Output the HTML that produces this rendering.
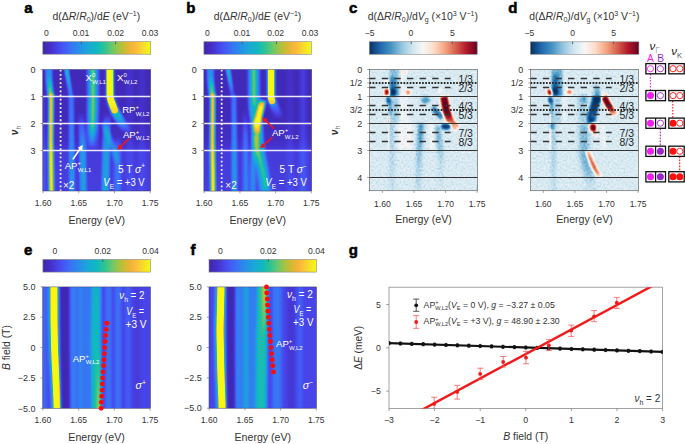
<!DOCTYPE html><html><head><meta charset="utf-8"><style>html,body{margin:0;padding:0;background:#fff;}body{width:685px;height:444px;overflow:hidden;font-family:"Liberation Sans",sans-serif;}svg{display:block;}</style></head><body><svg width="685" height="444" viewBox="0 0 685 444" font-family='"Liberation Sans", sans-serif' fill="#333"><defs><linearGradient id="gpar"><stop offset="0.000" stop-color="#3e26a8"/><stop offset="0.080" stop-color="#4632cd"/><stop offset="0.160" stop-color="#484bf0"/><stop offset="0.250" stop-color="#3c6ef5"/><stop offset="0.330" stop-color="#288ceb"/><stop offset="0.420" stop-color="#19a8d7"/><stop offset="0.500" stop-color="#0fb9be"/><stop offset="0.570" stop-color="#2dc396"/><stop offset="0.630" stop-color="#5fc873"/><stop offset="0.700" stop-color="#a0c446"/><stop offset="0.770" stop-color="#d4b930"/><stop offset="0.840" stop-color="#fcb43c"/><stop offset="0.900" stop-color="#facd34"/><stop offset="0.950" stop-color="#f4e622"/><stop offset="1.000" stop-color="#f8f814"/></linearGradient><linearGradient id="grdbu"><stop offset="0.000" stop-color="#053061"/><stop offset="0.100" stop-color="#2166ac"/><stop offset="0.200" stop-color="#4393c3"/><stop offset="0.300" stop-color="#92c5de"/><stop offset="0.400" stop-color="#d1e5f0"/><stop offset="0.500" stop-color="#f7f7f7"/><stop offset="0.600" stop-color="#fddbc7"/><stop offset="0.700" stop-color="#f4a582"/><stop offset="0.800" stop-color="#d6604d"/><stop offset="0.900" stop-color="#b2182b"/><stop offset="1.000" stop-color="#67001f"/></linearGradient><filter id="bl" x="-10%" y="-10%" width="120%" height="120%"><feGaussianBlur stdDeviation="0.7"/></filter><filter id="bl2" x="-10%" y="-10%" width="120%" height="120%"><feGaussianBlur stdDeviation="1.2"/></filter><filter id="g05" filterUnits="userSpaceOnUse" x="0" y="0" width="685" height="444" color-interpolation-filters="sRGB"><feGaussianBlur stdDeviation="0.5"/></filter><filter id="g08" filterUnits="userSpaceOnUse" x="0" y="0" width="685" height="444" color-interpolation-filters="sRGB"><feGaussianBlur stdDeviation="0.8"/></filter><filter id="g1" filterUnits="userSpaceOnUse" x="0" y="0" width="685" height="444" color-interpolation-filters="sRGB"><feGaussianBlur stdDeviation="1"/></filter><filter id="g15" filterUnits="userSpaceOnUse" x="0" y="0" width="685" height="444" color-interpolation-filters="sRGB"><feGaussianBlur stdDeviation="1.5"/></filter><filter id="g2" filterUnits="userSpaceOnUse" x="0" y="0" width="685" height="444" color-interpolation-filters="sRGB"><feGaussianBlur stdDeviation="2"/></filter><filter id="g3" filterUnits="userSpaceOnUse" x="0" y="0" width="685" height="444" color-interpolation-filters="sRGB"><feGaussianBlur stdDeviation="3"/></filter><filter id="g4" filterUnits="userSpaceOnUse" x="0" y="0" width="685" height="444" color-interpolation-filters="sRGB"><feGaussianBlur stdDeviation="4"/></filter><filter id="cmpar" filterUnits="userSpaceOnUse" x="0" y="0" width="685" height="444" color-interpolation-filters="sRGB"><feGaussianBlur stdDeviation="0.3"/><feComponentTransfer><feFuncR type="table" tableValues="0.24 0.25 0.26 0.27 0.27 0.28 0.28 0.27 0.26 0.25 0.24 0.21 0.19 0.16 0.15 0.13 0.11 0.09 0.08 0.07 0.06 0.1 0.14 0.19 0.27 0.36 0.45 0.54 0.63 0.7 0.77 0.84 0.9 0.95 0.99 0.98 0.98 0.97 0.96 0.96 0.97"/><feFuncG type="table" tableValues="0.15 0.16 0.18 0.19 0.22 0.25 0.28 0.32 0.36 0.39 0.43 0.47 0.51 0.54 0.57 0.6 0.64 0.66 0.68 0.71 0.73 0.74 0.75 0.76 0.78 0.78 0.78 0.77 0.77 0.75 0.74 0.73 0.72 0.71 0.72 0.76 0.8 0.85 0.9 0.94 0.97"/><feFuncB type="table" tableValues="0.66 0.71 0.75 0.8 0.84 0.88 0.93 0.95 0.95 0.96 0.96 0.95 0.94 0.93 0.91 0.88 0.86 0.84 0.81 0.78 0.75 0.69 0.63 0.58 0.52 0.46 0.4 0.34 0.27 0.24 0.21 0.19 0.21 0.22 0.23 0.22 0.2 0.17 0.13 0.11 0.08"/></feComponentTransfer></filter><filter id="cmrdbu" filterUnits="userSpaceOnUse" x="0" y="0" width="685" height="444" color-interpolation-filters="sRGB"><feGaussianBlur stdDeviation="0.3"/><feComponentTransfer><feFuncR type="table" tableValues="0.02 0.05 0.07 0.1 0.13 0.16 0.2 0.23 0.26 0.34 0.42 0.49 0.57 0.64 0.69 0.76 0.82 0.85 0.89 0.93 0.97 0.97 0.98 0.99 0.99 0.98 0.97 0.96 0.96 0.93 0.9 0.87 0.84 0.8 0.77 0.73 0.7 0.62 0.55 0.48 0.4"/><feFuncG type="table" tableValues="0.19 0.24 0.29 0.35 0.4 0.44 0.49 0.53 0.58 0.63 0.67 0.72 0.77 0.8 0.84 0.87 0.9 0.92 0.93 0.95 0.97 0.94 0.91 0.89 0.86 0.81 0.75 0.7 0.65 0.58 0.51 0.44 0.38 0.31 0.24 0.16 0.09 0.07 0.05 0.02 0"/><feFuncB type="table" tableValues="0.38 0.45 0.53 0.6 0.67 0.7 0.72 0.74 0.76 0.79 0.82 0.84 0.87 0.89 0.91 0.93 0.94 0.95 0.96 0.96 0.97 0.92 0.87 0.83 0.78 0.71 0.64 0.58 0.51 0.46 0.41 0.35 0.3 0.27 0.24 0.2 0.17 0.16 0.15 0.13 0.12"/></feComponentTransfer></filter><linearGradient id="o1" gradientUnits="userSpaceOnUse" x1="0" y1="63" x2="0" y2="97"><stop offset="0" stop-color="#fff" stop-opacity="0.32"/><stop offset="0.65" stop-color="#fff" stop-opacity="0.34"/><stop offset="1" stop-color="#fff" stop-opacity="0.36"/></linearGradient><linearGradient id="o2" gradientUnits="userSpaceOnUse" x1="0" y1="76" x2="0" y2="97"><stop offset="0" stop-color="#fff" stop-opacity="0"/><stop offset="0.57" stop-color="#fff" stop-opacity="0.45"/><stop offset="1" stop-color="#fff" stop-opacity="0.7"/></linearGradient><linearGradient id="o3" gradientUnits="userSpaceOnUse" x1="0" y1="94" x2="0" y2="197"><stop offset="0" stop-color="#fff" stop-opacity="0.75"/><stop offset="0.06" stop-color="#fff" stop-opacity="0.9"/><stop offset="0.45" stop-color="#fff" stop-opacity="0.92"/><stop offset="0.59" stop-color="#fff" stop-opacity="0.98"/><stop offset="1" stop-color="#fff" stop-opacity="1"/></linearGradient><linearGradient id="o4" gradientUnits="userSpaceOnUse" x1="0" y1="63" x2="0" y2="97"><stop offset="0" stop-color="#fff" stop-opacity="0.55"/><stop offset="0.26" stop-color="#fff" stop-opacity="0.55"/><stop offset="0.56" stop-color="#fff" stop-opacity="0.42"/><stop offset="1" stop-color="#fff" stop-opacity="0.26"/></linearGradient><linearGradient id="o5" gradientUnits="userSpaceOnUse" x1="0" y1="95" x2="0" y2="197"><stop offset="0" stop-color="#fff" stop-opacity="0.24"/><stop offset="0.34" stop-color="#fff" stop-opacity="0.28"/><stop offset="1" stop-color="#fff" stop-opacity="0.3"/></linearGradient><linearGradient id="o6" gradientUnits="userSpaceOnUse" x1="0" y1="112" x2="0" y2="197"><stop offset="0" stop-color="#fff" stop-opacity="0"/><stop offset="0.19" stop-color="#fff" stop-opacity="0.2"/><stop offset="0.39" stop-color="#fff" stop-opacity="0.3"/><stop offset="1" stop-color="#fff" stop-opacity="0.32"/></linearGradient><linearGradient id="o7" gradientUnits="userSpaceOnUse" x1="0" y1="63" x2="0" y2="150"><stop offset="0" stop-color="#fff" stop-opacity="0.34"/><stop offset="0.54" stop-color="#fff" stop-opacity="0.36"/><stop offset="0.75" stop-color="#fff" stop-opacity="0.3"/><stop offset="0.89" stop-color="#fff" stop-opacity="0.15"/><stop offset="1" stop-color="#fff" stop-opacity="0.02"/></linearGradient><linearGradient id="o8" gradientUnits="userSpaceOnUse" x1="0" y1="63" x2="0" y2="146"><stop offset="0" stop-color="#fff" stop-opacity="0.44"/><stop offset="0.4" stop-color="#fff" stop-opacity="0.46"/><stop offset="0.75" stop-color="#fff" stop-opacity="0.44"/><stop offset="0.88" stop-color="#fff" stop-opacity="0.25"/><stop offset="1" stop-color="#fff" stop-opacity="0.05"/></linearGradient><linearGradient id="o9" gradientUnits="userSpaceOnUse" x1="0" y1="112" x2="0" y2="197"><stop offset="0" stop-color="#fff" stop-opacity="0"/><stop offset="0.16" stop-color="#fff" stop-opacity="0.22"/><stop offset="0.33" stop-color="#fff" stop-opacity="0.3"/><stop offset="1" stop-color="#fff" stop-opacity="0.33"/></linearGradient><linearGradient id="o10" gradientUnits="userSpaceOnUse" x1="0" y1="63" x2="0" y2="110"><stop offset="0" stop-color="#fff" stop-opacity="1"/><stop offset="0.85" stop-color="#fff" stop-opacity="1"/><stop offset="0.94" stop-color="#fff" stop-opacity="0.95"/><stop offset="1" stop-color="#fff" stop-opacity="0.86"/></linearGradient><linearGradient id="o11" gradientUnits="userSpaceOnUse" x1="0" y1="63" x2="0" y2="133"><stop offset="0" stop-color="#fff" stop-opacity="0.3"/><stop offset="0.53" stop-color="#fff" stop-opacity="0.35"/><stop offset="0.67" stop-color="#fff" stop-opacity="0.5"/><stop offset="0.73" stop-color="#fff" stop-opacity="0.5"/><stop offset="0.79" stop-color="#fff" stop-opacity="0.42"/><stop offset="0.84" stop-color="#fff" stop-opacity="0.33"/><stop offset="0.93" stop-color="#fff" stop-opacity="0.18"/><stop offset="1" stop-color="#fff" stop-opacity="0"/></linearGradient><linearGradient id="o12" gradientUnits="userSpaceOnUse" x1="0" y1="122" x2="0" y2="166"><stop offset="0" stop-color="#fff" stop-opacity="0.1"/><stop offset="0.18" stop-color="#fff" stop-opacity="0.24"/><stop offset="0.52" stop-color="#fff" stop-opacity="0.28"/><stop offset="0.82" stop-color="#fff" stop-opacity="0.2"/><stop offset="1" stop-color="#fff" stop-opacity="0"/></linearGradient><linearGradient id="o13" gradientUnits="userSpaceOnUse" x1="0" y1="135" x2="0" y2="197"><stop offset="0" stop-color="#fff" stop-opacity="0"/><stop offset="0.24" stop-color="#fff" stop-opacity="0.18"/><stop offset="1" stop-color="#fff" stop-opacity="0.2"/></linearGradient><linearGradient id="bga" gradientUnits="userSpaceOnUse" x1="0" y1="69.4" x2="0" y2="191"><stop offset="0" stop-color="#080808"/><stop offset="0.42" stop-color="#090909"/><stop offset="0.58" stop-color="#0f0f0f"/><stop offset="0.68" stop-color="#1c1c1c"/><stop offset="1" stop-color="#1f1f1f"/></linearGradient><clipPath id="ca"><rect x="42.8" y="69.4" width="107.9" height="121.6"/></clipPath><linearGradient id="o14" gradientUnits="userSpaceOnUse" x1="0" y1="63" x2="0" y2="97"><stop offset="0" stop-color="#fff" stop-opacity="0.32"/><stop offset="0.65" stop-color="#fff" stop-opacity="0.34"/><stop offset="1" stop-color="#fff" stop-opacity="0.36"/></linearGradient><linearGradient id="o15" gradientUnits="userSpaceOnUse" x1="0" y1="76" x2="0" y2="97"><stop offset="0" stop-color="#fff" stop-opacity="0"/><stop offset="0.57" stop-color="#fff" stop-opacity="0.45"/><stop offset="1" stop-color="#fff" stop-opacity="0.7"/></linearGradient><linearGradient id="o16" gradientUnits="userSpaceOnUse" x1="0" y1="94" x2="0" y2="197"><stop offset="0" stop-color="#fff" stop-opacity="0.75"/><stop offset="0.06" stop-color="#fff" stop-opacity="0.9"/><stop offset="0.45" stop-color="#fff" stop-opacity="0.92"/><stop offset="0.59" stop-color="#fff" stop-opacity="0.98"/><stop offset="1" stop-color="#fff" stop-opacity="1"/></linearGradient><linearGradient id="o17" gradientUnits="userSpaceOnUse" x1="0" y1="63" x2="0" y2="97"><stop offset="0" stop-color="#fff" stop-opacity="0.55"/><stop offset="0.26" stop-color="#fff" stop-opacity="0.55"/><stop offset="0.56" stop-color="#fff" stop-opacity="0.4"/><stop offset="0.85" stop-color="#fff" stop-opacity="0.2"/><stop offset="1" stop-color="#fff" stop-opacity="0.1"/></linearGradient><linearGradient id="o18" gradientUnits="userSpaceOnUse" x1="0" y1="95" x2="0" y2="197"><stop offset="0" stop-color="#fff" stop-opacity="0.24"/><stop offset="0.34" stop-color="#fff" stop-opacity="0.28"/><stop offset="1" stop-color="#fff" stop-opacity="0.3"/></linearGradient><linearGradient id="o19" gradientUnits="userSpaceOnUse" x1="0" y1="108" x2="0" y2="197"><stop offset="0" stop-color="#fff" stop-opacity="0"/><stop offset="0.3" stop-color="#fff" stop-opacity="0.22"/><stop offset="1" stop-color="#fff" stop-opacity="0.26"/></linearGradient><linearGradient id="o20" gradientUnits="userSpaceOnUse" x1="0" y1="63" x2="0" y2="197"><stop offset="0" stop-color="#fff" stop-opacity="0.36"/><stop offset="0.25" stop-color="#fff" stop-opacity="0.38"/><stop offset="0.35" stop-color="#fff" stop-opacity="0.42"/><stop offset="0.46" stop-color="#fff" stop-opacity="0.48"/><stop offset="0.57" stop-color="#fff" stop-opacity="0.44"/><stop offset="0.72" stop-color="#fff" stop-opacity="0.36"/><stop offset="1" stop-color="#fff" stop-opacity="0.3"/></linearGradient><linearGradient id="o21" gradientUnits="userSpaceOnUse" x1="0" y1="135" x2="0" y2="197"><stop offset="0" stop-color="#fff" stop-opacity="0.3"/><stop offset="0.24" stop-color="#fff" stop-opacity="0.3"/><stop offset="0.56" stop-color="#fff" stop-opacity="0.28"/><stop offset="1" stop-color="#fff" stop-opacity="0.26"/></linearGradient><linearGradient id="o22" gradientUnits="userSpaceOnUse" x1="0" y1="63" x2="0" y2="106"><stop offset="0" stop-color="#fff" stop-opacity="0.44"/><stop offset="0.77" stop-color="#fff" stop-opacity="0.42"/><stop offset="1" stop-color="#fff" stop-opacity="0.3"/></linearGradient><linearGradient id="o23" gradientUnits="userSpaceOnUse" x1="0" y1="128" x2="0" y2="188"><stop offset="0" stop-color="#fff" stop-opacity="0.45"/><stop offset="0.2" stop-color="#fff" stop-opacity="0.5"/><stop offset="0.37" stop-color="#fff" stop-opacity="0.46"/><stop offset="0.62" stop-color="#fff" stop-opacity="0.36"/><stop offset="1" stop-color="#fff" stop-opacity="0.28"/></linearGradient><linearGradient id="o24" gradientUnits="userSpaceOnUse" x1="0" y1="100" x2="0" y2="133"><stop offset="0" stop-color="#fff" stop-opacity="0.3"/><stop offset="0.09" stop-color="#fff" stop-opacity="0.8"/><stop offset="0.21" stop-color="#fff" stop-opacity="1"/><stop offset="0.73" stop-color="#fff" stop-opacity="1"/><stop offset="0.82" stop-color="#fff" stop-opacity="0.9"/><stop offset="0.91" stop-color="#fff" stop-opacity="0.65"/><stop offset="1" stop-color="#fff" stop-opacity="0.35"/></linearGradient><linearGradient id="o25" gradientUnits="userSpaceOnUse" x1="0" y1="63" x2="0" y2="101"><stop offset="0" stop-color="#fff" stop-opacity="1"/><stop offset="0.95" stop-color="#fff" stop-opacity="1"/><stop offset="1" stop-color="#fff" stop-opacity="0.85"/></linearGradient><linearGradient id="o26" gradientUnits="userSpaceOnUse" x1="0" y1="63" x2="0" y2="120"><stop offset="0" stop-color="#fff" stop-opacity="0.4"/><stop offset="0.65" stop-color="#fff" stop-opacity="0.4"/><stop offset="0.75" stop-color="#fff" stop-opacity="0.25"/><stop offset="0.86" stop-color="#fff" stop-opacity="0.14"/><stop offset="1" stop-color="#fff" stop-opacity="0"/></linearGradient><linearGradient id="bgb" gradientUnits="userSpaceOnUse" x1="0" y1="69.4" x2="0" y2="191.1"><stop offset="0" stop-color="#080808"/><stop offset="0.42" stop-color="#090909"/><stop offset="0.58" stop-color="#0f0f0f"/><stop offset="0.68" stop-color="#1c1c1c"/><stop offset="1" stop-color="#1f1f1f"/></linearGradient><clipPath id="cb"><rect x="203.9" y="69.4" width="107.8" height="121.7"/></clipPath><filter id="nz" filterUnits="userSpaceOnUse" x="360" y="60" width="290" height="140" color-interpolation-filters="sRGB"><feTurbulence type="fractalNoise" baseFrequency="0.5" numOctaves="2" seed="7"/><feColorMatrix type="matrix" values="1 0 0 0 0  1 0 0 0 0  1 0 0 0 0  0 0 0 0 0.2"/></filter><linearGradient id="o27" gradientUnits="userSpaceOnUse" x1="0" y1="63" x2="0" y2="96"><stop offset="0" stop-color="#000" stop-opacity="0.28"/><stop offset="0.52" stop-color="#000" stop-opacity="0.33"/><stop offset="0.82" stop-color="#000" stop-opacity="0.43"/><stop offset="1" stop-color="#000" stop-opacity="0.46"/></linearGradient><linearGradient id="o28" gradientUnits="userSpaceOnUse" x1="0" y1="76" x2="0" y2="94"><stop offset="0" stop-color="#000" stop-opacity="0.26"/><stop offset="0.44" stop-color="#000" stop-opacity="0.51"/><stop offset="1" stop-color="#000" stop-opacity="0.75"/></linearGradient><linearGradient id="o29" gradientUnits="userSpaceOnUse" x1="0" y1="100" x2="0" y2="116"><stop offset="0" stop-color="#000" stop-opacity="0.63"/><stop offset="0.5" stop-color="#000" stop-opacity="0.46"/><stop offset="1" stop-color="#000" stop-opacity="0.26"/></linearGradient><linearGradient id="o30" gradientUnits="userSpaceOnUse" x1="0" y1="116" x2="0" y2="150"><stop offset="0" stop-color="#fff" stop-opacity="0.33"/><stop offset="0.15" stop-color="#fff" stop-opacity="0.43"/><stop offset="0.56" stop-color="#fff" stop-opacity="0.29"/><stop offset="1" stop-color="#fff" stop-opacity="0.26"/></linearGradient><linearGradient id="o31" gradientUnits="userSpaceOnUse" x1="0" y1="96.5" x2="0" y2="129"><stop offset="0" stop-color="#fff" stop-opacity="1"/><stop offset="0.48" stop-color="#fff" stop-opacity="1"/><stop offset="0.63" stop-color="#fff" stop-opacity="0.87"/><stop offset="0.75" stop-color="#fff" stop-opacity="0.66"/><stop offset="0.85" stop-color="#fff" stop-opacity="0.53"/><stop offset="1" stop-color="#fff" stop-opacity="0.36"/></linearGradient><linearGradient id="o32" gradientUnits="userSpaceOnUse" x1="0" y1="123" x2="0" y2="197"><stop offset="0" stop-color="#000" stop-opacity="0.51"/><stop offset="0.19" stop-color="#000" stop-opacity="0.48"/><stop offset="0.36" stop-color="#000" stop-opacity="0.33"/><stop offset="0.64" stop-color="#000" stop-opacity="0.19"/><stop offset="1" stop-color="#000" stop-opacity="0.09"/></linearGradient><linearGradient id="o33" gradientUnits="userSpaceOnUse" x1="0" y1="126" x2="0" y2="197"><stop offset="0" stop-color="#000" stop-opacity="0.36"/><stop offset="0.2" stop-color="#000" stop-opacity="0.36"/><stop offset="0.37" stop-color="#000" stop-opacity="0.23"/><stop offset="0.55" stop-color="#000" stop-opacity="0.11"/><stop offset="1" stop-color="#000" stop-opacity="0.01"/></linearGradient><linearGradient id="o34" gradientUnits="userSpaceOnUse" x1="0" y1="123" x2="0" y2="197"><stop offset="0" stop-color="#000" stop-opacity="0.23"/><stop offset="0.36" stop-color="#000" stop-opacity="0.16"/><stop offset="1" stop-color="#000" stop-opacity="0.09"/></linearGradient><clipPath id="cc"><rect x="369.4" y="69.4" width="108.2" height="121.3"/></clipPath><linearGradient id="o35" gradientUnits="userSpaceOnUse" x1="0" y1="63" x2="0" y2="96"><stop offset="0" stop-color="#000" stop-opacity="0.38"/><stop offset="0.45" stop-color="#000" stop-opacity="0.41"/><stop offset="0.82" stop-color="#000" stop-opacity="0.51"/><stop offset="1" stop-color="#000" stop-opacity="0.56"/></linearGradient><linearGradient id="o36" gradientUnits="userSpaceOnUse" x1="0" y1="74" x2="0" y2="94"><stop offset="0" stop-color="#000" stop-opacity="0.36"/><stop offset="0.5" stop-color="#000" stop-opacity="0.65"/><stop offset="1" stop-color="#000" stop-opacity="0.85"/></linearGradient><linearGradient id="o37" gradientUnits="userSpaceOnUse" x1="0" y1="100" x2="0" y2="123"><stop offset="0" stop-color="#000" stop-opacity="0.63"/><stop offset="0.43" stop-color="#000" stop-opacity="0.46"/><stop offset="1" stop-color="#000" stop-opacity="0.33"/></linearGradient><linearGradient id="o38" gradientUnits="userSpaceOnUse" x1="0" y1="114" x2="0" y2="150"><stop offset="0" stop-color="#fff" stop-opacity="0.33"/><stop offset="0.22" stop-color="#fff" stop-opacity="0.39"/><stop offset="0.72" stop-color="#fff" stop-opacity="0.29"/><stop offset="1" stop-color="#fff" stop-opacity="0.24"/></linearGradient><linearGradient id="o39" gradientUnits="userSpaceOnUse" x1="0" y1="96.5" x2="0" y2="120"><stop offset="0" stop-color="#000" stop-opacity="0.98"/><stop offset="0.4" stop-color="#000" stop-opacity="0.95"/><stop offset="0.66" stop-color="#000" stop-opacity="0.88"/><stop offset="0.83" stop-color="#000" stop-opacity="0.75"/><stop offset="1" stop-color="#000" stop-opacity="0.75"/></linearGradient><linearGradient id="o40" gradientUnits="userSpaceOnUse" x1="0" y1="96.5" x2="0" y2="115.5"><stop offset="0" stop-color="#fff" stop-opacity="1"/><stop offset="0.5" stop-color="#fff" stop-opacity="1"/><stop offset="0.68" stop-color="#fff" stop-opacity="0.83"/><stop offset="0.87" stop-color="#fff" stop-opacity="0.53"/><stop offset="1" stop-color="#fff" stop-opacity="0.36"/></linearGradient><linearGradient id="o41" gradientUnits="userSpaceOnUse" x1="0" y1="128" x2="0" y2="136"><stop offset="0" stop-color="#fff" stop-opacity="0.83"/><stop offset="0.5" stop-color="#fff" stop-opacity="0.58"/><stop offset="1" stop-color="#fff" stop-opacity="0.33"/></linearGradient><linearGradient id="o42" gradientUnits="userSpaceOnUse" x1="0" y1="124" x2="0" y2="197"><stop offset="0" stop-color="#000" stop-opacity="0.36"/><stop offset="0.22" stop-color="#000" stop-opacity="0.33"/><stop offset="0.49" stop-color="#000" stop-opacity="0.38"/><stop offset="0.7" stop-color="#000" stop-opacity="0.31"/><stop offset="0.79" stop-color="#000" stop-opacity="0.11"/><stop offset="1" stop-color="#000" stop-opacity="0.06"/></linearGradient><linearGradient id="o43" gradientUnits="userSpaceOnUse" x1="0" y1="84" x2="0" y2="96"><stop offset="0" stop-color="#000" stop-opacity="0.11"/><stop offset="0.5" stop-color="#000" stop-opacity="0.38"/><stop offset="1" stop-color="#000" stop-opacity="0.63"/></linearGradient><linearGradient id="o44" gradientUnits="userSpaceOnUse" x1="0" y1="123" x2="0" y2="197"><stop offset="0" stop-color="#000" stop-opacity="0.26"/><stop offset="0.36" stop-color="#000" stop-opacity="0.21"/><stop offset="1" stop-color="#000" stop-opacity="0.11"/></linearGradient><linearGradient id="o45" gradientUnits="userSpaceOnUse" x1="0" y1="150.5" x2="0" y2="177"><stop offset="0" stop-color="#fff" stop-opacity="0.43"/><stop offset="0.21" stop-color="#fff" stop-opacity="0.63"/><stop offset="0.58" stop-color="#fff" stop-opacity="0.7"/><stop offset="0.81" stop-color="#fff" stop-opacity="0.6"/><stop offset="1" stop-color="#fff" stop-opacity="0.33"/></linearGradient><clipPath id="cd"><rect x="530.5" y="69.4" width="108" height="121.3"/></clipPath><linearGradient id="o46" gradientUnits="userSpaceOnUse" x1="0" y1="281" x2="0" y2="414"><stop offset="0" stop-color="#fff" stop-opacity="0.36"/><stop offset="0.44" stop-color="#fff" stop-opacity="0.42"/><stop offset="1" stop-color="#fff" stop-opacity="0.44"/></linearGradient><linearGradient id="o47" gradientUnits="userSpaceOnUse" x1="0" y1="340" x2="0" y2="414"><stop offset="0" stop-color="#fff" stop-opacity="0"/><stop offset="0.41" stop-color="#fff" stop-opacity="0.16"/><stop offset="0.68" stop-color="#fff" stop-opacity="0.3"/><stop offset="1" stop-color="#fff" stop-opacity="0.46"/></linearGradient><clipPath id="ce"><rect x="42.7" y="286.9" width="107.8" height="121.4"/></clipPath><linearGradient id="o48" gradientUnits="userSpaceOnUse" x1="0" y1="281" x2="0" y2="414"><stop offset="0" stop-color="#fff" stop-opacity="0.5"/><stop offset="0.44" stop-color="#fff" stop-opacity="0.46"/><stop offset="1" stop-color="#fff" stop-opacity="0.44"/></linearGradient><linearGradient id="o49" gradientUnits="userSpaceOnUse" x1="0" y1="281" x2="0" y2="340"><stop offset="0" stop-color="#fff" stop-opacity="0.5"/><stop offset="0.29" stop-color="#fff" stop-opacity="0.42"/><stop offset="0.58" stop-color="#fff" stop-opacity="0.25"/><stop offset="0.83" stop-color="#fff" stop-opacity="0.1"/><stop offset="1" stop-color="#fff" stop-opacity="0"/></linearGradient><clipPath id="cf"><rect x="209" y="286.9" width="107.5" height="121.3"/></clipPath><clipPath id="cg"><rect x="389" y="287.2" width="273.6" height="121.2"/></clipPath></defs><text x="24.2" y="12.9" font-size="15" fill="#000" font-weight="bold" stroke="#000" stroke-width="0.55">a</text><text x="186.3" y="12.8" font-size="15" fill="#000" font-weight="bold" stroke="#000" stroke-width="0.55">b</text><text x="349" y="12.8" font-size="15" fill="#000" font-weight="bold" stroke="#000" stroke-width="0.55">c</text><text x="508.2" y="12.8" font-size="15" fill="#000" font-weight="bold" stroke="#000" stroke-width="0.55">d</text><text x="24.1" y="254.9" font-size="15" fill="#000" font-weight="bold" stroke="#000" stroke-width="0.55">e</text><text x="190.4" y="254.7" font-size="15" fill="#000" font-weight="bold" stroke="#000" stroke-width="0.55">f</text><text x="348.8" y="254.6" font-size="15" fill="#000" font-weight="bold" stroke="#000" stroke-width="0.55">g</text><rect x="42.8" y="41.7" width="107.9" height="12.5" fill="url(#gpar)" stroke="#8a8a8a" stroke-width="0.6"/><line x1="46.5" y1="41.7" x2="46.5" y2="44.1" stroke="#555" stroke-width="0.9"/><line x1="81.3" y1="41.7" x2="81.3" y2="44.1" stroke="#555" stroke-width="0.9"/><line x1="115.7" y1="41.7" x2="115.7" y2="44.1" stroke="#555" stroke-width="0.9"/><text x="46.5" y="36.1" font-size="8.6" text-anchor="middle">0</text><text x="81" y="36.1" font-size="8.6" text-anchor="middle">0.01</text><text x="115.7" y="36.1" font-size="8.6" text-anchor="middle">0.02</text><text x="150" y="36.1" font-size="8.6" text-anchor="middle">0.03</text><rect x="203.9" y="41.7" width="107.4" height="12.6" fill="url(#gpar)" stroke="#8a8a8a" stroke-width="0.6"/><line x1="207.6" y1="41.7" x2="207.6" y2="44.1" stroke="#555" stroke-width="0.9"/><line x1="242.3" y1="41.7" x2="242.3" y2="44.1" stroke="#555" stroke-width="0.9"/><line x1="276.5" y1="41.7" x2="276.5" y2="44.1" stroke="#555" stroke-width="0.9"/><text x="207.4" y="36.1" font-size="8.6" text-anchor="middle">0</text><text x="242" y="36.1" font-size="8.6" text-anchor="middle">0.01</text><text x="275.7" y="36.1" font-size="8.6" text-anchor="middle">0.02</text><text x="310" y="36.1" font-size="8.6" text-anchor="middle">0.03</text><rect x="369.3" y="41.7" width="107.9" height="12.6" fill="url(#grdbu)" stroke="#8a8a8a" stroke-width="0.6"/><line x1="411.2" y1="41.7" x2="411.2" y2="44.1" stroke="#555" stroke-width="0.9"/><line x1="452.3" y1="41.7" x2="452.3" y2="44.1" stroke="#555" stroke-width="0.9"/><text x="369.7" y="36.1" font-size="8.6" text-anchor="middle">−5</text><text x="411" y="36.1" font-size="8.6" text-anchor="middle">0</text><text x="452.4" y="36.1" font-size="8.6" text-anchor="middle">5</text><rect x="530.4" y="41.8" width="108.5" height="12.5" fill="url(#grdbu)" stroke="#8a8a8a" stroke-width="0.6"/><line x1="572.6" y1="41.8" x2="572.6" y2="44.2" stroke="#555" stroke-width="0.9"/><line x1="613.4" y1="41.8" x2="613.4" y2="44.2" stroke="#555" stroke-width="0.9"/><text x="529.4" y="36.2" font-size="8.6" text-anchor="middle">−5</text><text x="572.6" y="36.2" font-size="8.6" text-anchor="middle">0</text><text x="613.6" y="36.2" font-size="8.6" text-anchor="middle">5</text><rect x="42.9" y="259.4" width="107.7" height="12.7" fill="url(#gpar)" stroke="#8a8a8a" stroke-width="0.6"/><line x1="54.7" y1="259.4" x2="54.7" y2="261.8" stroke="#555" stroke-width="0.9"/><line x1="102.8" y1="259.4" x2="102.8" y2="261.8" stroke="#555" stroke-width="0.9"/><text x="54.9" y="253.8" font-size="8.6" text-anchor="middle">0</text><text x="102.8" y="253.8" font-size="8.6" text-anchor="middle">0.02</text><text x="150.5" y="253.8" font-size="8.6" text-anchor="middle">0.04</text><rect x="209" y="259.4" width="107.4" height="12.7" fill="url(#gpar)" stroke="#8a8a8a" stroke-width="0.6"/><line x1="220.9" y1="259.4" x2="220.9" y2="261.8" stroke="#555" stroke-width="0.9"/><line x1="268.3" y1="259.4" x2="268.3" y2="261.8" stroke="#555" stroke-width="0.9"/><text x="220.4" y="253.8" font-size="8.6" text-anchor="middle">0</text><text x="268.3" y="253.8" font-size="8.6" text-anchor="middle">0.02</text><text x="316.4" y="253.8" font-size="8.6" text-anchor="middle">0.04</text><text x="52.6" y="19.8" font-size="10.4">d(Δ<tspan font-style="italic">R</tspan>/<tspan font-style="italic">R</tspan><tspan font-size="7" dy="2.2">0</tspan><tspan dy="-2.2">)/d</tspan><tspan font-style="italic">E</tspan> (eV<tspan font-size="7" dy="-3.6">−1</tspan><tspan dy="3.6">)</tspan></text><text x="213.7" y="19.7" font-size="10.4">d(Δ<tspan font-style="italic">R</tspan>/<tspan font-style="italic">R</tspan><tspan font-size="7" dy="2.2">0</tspan><tspan dy="-2.2">)/d</tspan><tspan font-style="italic">E</tspan> (eV<tspan font-size="7" dy="-3.6">−1</tspan><tspan dy="3.6">)</tspan></text><text x="367.7" y="19.8" font-size="10.4">d(Δ<tspan font-style="italic">R</tspan>/<tspan font-style="italic">R</tspan><tspan font-size="7" dy="2.2">0</tspan><tspan dy="-2.2">)/d</tspan><tspan font-style="italic">V</tspan><tspan font-size="7" dy="2.2">g</tspan><tspan dy="-2.2"> (×10</tspan><tspan font-size="7" dy="-3.6">3</tspan><tspan dy="3.6"> V</tspan><tspan font-size="7" dy="-3.6">−1</tspan><tspan dy="3.6">)</tspan></text><text x="529.3" y="19.7" font-size="10.4">d(Δ<tspan font-style="italic">R</tspan>/<tspan font-style="italic">R</tspan><tspan font-size="7" dy="2.2">0</tspan><tspan dy="-2.2">)/d</tspan><tspan font-style="italic">V</tspan><tspan font-size="7" dy="2.2">g</tspan><tspan dy="-2.2"> (×10</tspan><tspan font-size="7" dy="-3.6">3</tspan><tspan dy="3.6"> V</tspan><tspan font-size="7" dy="-3.6">−1</tspan><tspan dy="3.6">)</tspan></text><g clip-path="url(#ca)"><g filter="url(#cmpar)"><rect x="36.8" y="63.4" width="119.9" height="133.6" fill="url(#bga)"/><path d="M48.6 63 L49 80 L50 90 L51 97" fill="none" stroke="url(#o1)" stroke-width="6.6" filter="url(#g1)"/><path d="M49 76 L50.1 90 L51 97" fill="none" stroke="url(#o2)" stroke-width="3.2" filter="url(#g1)"/><path d="M51 94 L51.1 100 L51 120 L50.8 140 L51.2 170 L51.5 197" fill="none" stroke="url(#o3)" stroke-width="4.4" filter="url(#g1)"/><path d="M66.3 63 L66.6 70 L68.3 80 L70 90 L71 97" fill="none" stroke="url(#o4)" stroke-width="3.6" filter="url(#g1)"/><path d="M71.2 95 L71.5 130 L72 197" fill="none" stroke="url(#o5)" stroke-width="5" filter="url(#g1)"/><path d="M81 112 L82.5 140 L83.5 197" fill="none" stroke="url(#o6)" stroke-width="6" filter="url(#g1)"/><path d="M92.9 63 L93 96 L92.6 125 L92.2 138 L91.8 150" fill="none" stroke="url(#o7)" stroke-width="11" filter="url(#g15)"/><path d="M93 63 L93 96 L92.6 125 L92.2 136 L91.8 146" fill="none" stroke="url(#o8)" stroke-width="4.2" filter="url(#g1)"/><path d="M107.5 112 L106.5 135 L105.2 197" fill="none" stroke="url(#o9)" stroke-width="7" filter="url(#g1)"/><path d="M109.9 63 L110 96 L110.8 100 L112.3 104 L113.6 107.5 L114.6 110" fill="none" stroke="url(#o10)" stroke-width="7" filter="url(#g05)" stroke-linecap="round"/><path d="M109.9 63 L110 96 L111.8 103 L114 109 L117 115 L120.5 121 L124 127 L127 133" fill="none" stroke="url(#o11)" stroke-width="8" filter="url(#g15)"/><path d="M103 122 L108.5 136 L113.5 149 L116 158 L117.5 166" fill="none" stroke="url(#o12)" stroke-width="5" filter="url(#g15)"/><path d="M117.5 135 L117.5 197" fill="none" stroke="url(#o13)" stroke-width="6" filter="url(#g15)"/><path d="M130 63 L130 197" fill="none" stroke="#fff" stroke-opacity="0.07" stroke-width="5" filter="url(#g2)"/><path d="M142 63 L142 197" fill="none" stroke="#fff" stroke-opacity="0.06" stroke-width="5" filter="url(#g2)"/><path d="M44 96 L44 197" fill="none" stroke="#fff" stroke-opacity="0.12" stroke-width="2" filter="url(#g1)"/></g></g><g clip-path="url(#cb)"><g filter="url(#cmpar)"><rect x="197.9" y="63.4" width="119.8" height="133.7" fill="url(#bgb)"/><path d="M210.2 63 L210.6 80 L211.6 90 L212.6 97" fill="none" stroke="url(#o14)" stroke-width="6.6" filter="url(#g1)"/><path d="M210.6 76 L211.7 90 L212.6 97" fill="none" stroke="url(#o15)" stroke-width="3.2" filter="url(#g1)"/><path d="M212.6 94 L212.7 100 L212.6 120 L212.4 140 L212.8 170 L213.1 197" fill="none" stroke="url(#o16)" stroke-width="4.4" filter="url(#g1)"/><path d="M227.9 63 L228.2 70 L229.9 80 L231.6 90 L232.6 97" fill="none" stroke="url(#o17)" stroke-width="3.6" filter="url(#g1)"/><path d="M233.8 95 L234.2 130 L234.6 197" fill="none" stroke="url(#o18)" stroke-width="5" filter="url(#g1)"/><path d="M245 108 L245.5 140 L246 197" fill="none" stroke="url(#o19)" stroke-width="4.5" filter="url(#g15)"/><path d="M253.8 63 L254 96 L254.5 108 L256 118 L257 128 L257.5 140 L259.5 155 L262.5 170 L266 197" fill="none" stroke="url(#o20)" stroke-width="11" filter="url(#g15)"/><path d="M255.5 135 L254 150 L253 170 L253 197" fill="none" stroke="url(#o21)" stroke-width="5" filter="url(#g15)"/><path d="M253.8 63 L254 96 L254.5 106" fill="none" stroke="url(#o22)" stroke-width="4" filter="url(#g1)"/><path d="M257.5 128 L256.8 140 L257.5 150 L260 160 L263 172 L266 188" fill="none" stroke="url(#o23)" stroke-width="3" filter="url(#g1)"/><ellipse cx="257.2" cy="122.5" rx="3" ry="4.5" fill="#fff" fill-opacity="0.9" transform="rotate(15 257.2 122.5)" filter="url(#g1)"/><path d="M262.6 100 L261.8 104 L260.4 110 L258.6 117 L257.3 123 L256.8 128 L257 133" fill="none" stroke="url(#o24)" stroke-width="6.4" filter="url(#g08)"/><path d="M271.1 63 L271.1 96 L271.4 99 L272 101" fill="none" stroke="url(#o25)" stroke-width="6.6" filter="url(#g05)" stroke-linecap="round"/><path d="M271.1 63 L271.1 96 L272 101 L274.5 107 L277.5 113 L280 120" fill="none" stroke="url(#o26)" stroke-width="8" filter="url(#g15)"/><path d="M303 63 L303 197" fill="none" stroke="#fff" stroke-opacity="0.12" stroke-width="5" filter="url(#g2)"/><path d="M290 63 L290 197" fill="none" stroke="#fff" stroke-opacity="0.06" stroke-width="5" filter="url(#g2)"/></g></g><line x1="42.8" y1="96.5" x2="150.7" y2="96.5" stroke="#ece8f6" stroke-width="1.4"/><line x1="42.8" y1="123.5" x2="150.7" y2="123.5" stroke="#ece8f6" stroke-width="1.4"/><line x1="42.8" y1="150.5" x2="150.7" y2="150.5" stroke="#ece8f6" stroke-width="1.4"/><line x1="60.6" y1="69.8" x2="60.6" y2="191" stroke="#f0eef8" stroke-width="1.8" stroke-dasharray="1.8 2.33"/><rect x="42.8" y="69.4" width="107.9" height="121.6" fill="none" stroke="#3a3a6a" stroke-width="0.5"/><line x1="40.6" y1="69.5" x2="42.8" y2="69.5" stroke="#666" stroke-width="0.6"/><text x="35.6" y="72.7" font-size="9" text-anchor="end">0</text><line x1="40.6" y1="96.5" x2="42.8" y2="96.5" stroke="#666" stroke-width="0.6"/><text x="35.6" y="99.7" font-size="9" text-anchor="end">1</text><line x1="40.6" y1="123.5" x2="42.8" y2="123.5" stroke="#666" stroke-width="0.6"/><text x="35.6" y="126.7" font-size="9" text-anchor="end">2</text><line x1="40.6" y1="150.5" x2="42.8" y2="150.5" stroke="#666" stroke-width="0.6"/><text x="35.6" y="153.7" font-size="9" text-anchor="end">3</text><line x1="43.1" y1="191" x2="43.1" y2="193.2" stroke="#666" stroke-width="0.6"/><text x="43.1" y="206" font-size="8.6" text-anchor="middle">1.60</text><line x1="78.8" y1="191" x2="78.8" y2="193.2" stroke="#666" stroke-width="0.6"/><text x="78.8" y="206" font-size="8.6" text-anchor="middle">1.65</text><line x1="114.5" y1="191" x2="114.5" y2="193.2" stroke="#666" stroke-width="0.6"/><text x="114.5" y="206" font-size="8.6" text-anchor="middle">1.70</text><line x1="150.2" y1="191" x2="150.2" y2="193.2" stroke="#666" stroke-width="0.6"/><text x="150.2" y="206" font-size="8.6" text-anchor="middle">1.75</text><text x="96.8" y="224" font-size="10.6" text-anchor="middle">Energy (eV)</text><line x1="203.9" y1="96.5" x2="311.7" y2="96.5" stroke="#ece8f6" stroke-width="1.4"/><line x1="203.9" y1="123.5" x2="311.7" y2="123.5" stroke="#ece8f6" stroke-width="1.4"/><line x1="203.9" y1="150.5" x2="311.7" y2="150.5" stroke="#ece8f6" stroke-width="1.4"/><line x1="221.7" y1="69.8" x2="221.7" y2="191.1" stroke="#f0eef8" stroke-width="1.8" stroke-dasharray="1.8 2.33"/><rect x="203.9" y="69.4" width="107.8" height="121.7" fill="none" stroke="#3a3a6a" stroke-width="0.5"/><line x1="201.7" y1="69.5" x2="203.9" y2="69.5" stroke="#666" stroke-width="0.6"/><text x="196.7" y="72.7" font-size="9" text-anchor="end">0</text><line x1="201.7" y1="96.5" x2="203.9" y2="96.5" stroke="#666" stroke-width="0.6"/><text x="196.7" y="99.7" font-size="9" text-anchor="end">1</text><line x1="201.7" y1="123.5" x2="203.9" y2="123.5" stroke="#666" stroke-width="0.6"/><text x="196.7" y="126.7" font-size="9" text-anchor="end">2</text><line x1="201.7" y1="150.5" x2="203.9" y2="150.5" stroke="#666" stroke-width="0.6"/><text x="196.7" y="153.7" font-size="9" text-anchor="end">3</text><line x1="204.2" y1="191.1" x2="204.2" y2="193.3" stroke="#666" stroke-width="0.6"/><text x="204.2" y="206" font-size="8.6" text-anchor="middle">1.60</text><line x1="239.9" y1="191.1" x2="239.9" y2="193.3" stroke="#666" stroke-width="0.6"/><text x="239.9" y="206" font-size="8.6" text-anchor="middle">1.65</text><line x1="275.6" y1="191.1" x2="275.6" y2="193.3" stroke="#666" stroke-width="0.6"/><text x="275.6" y="206" font-size="8.6" text-anchor="middle">1.70</text><line x1="311.3" y1="191.1" x2="311.3" y2="193.3" stroke="#666" stroke-width="0.6"/><text x="311.3" y="206" font-size="8.6" text-anchor="middle">1.75</text><text x="257.8" y="224" font-size="10.6" text-anchor="middle">Energy (eV)</text><text transform="translate(18.4 135.2) rotate(-90)" font-size="10.2"><tspan font-weight="bold" font-style="italic">ν</tspan><tspan font-size="7.2" dy="2.4" fill="#777">h</tspan></text><text x="85.5" y="81.4" font-size="9.6" fill="#fff"><tspan>X</tspan><tspan font-size="6" dy="-4.2">0</tspan><tspan font-size="6" dx="-3" dy="6.8">W,L1</tspan></text><text x="117" y="81.4" font-size="9.6" fill="#fff"><tspan>X</tspan><tspan font-size="6" dy="-4.2">0</tspan><tspan font-size="6" dx="-3" dy="6.8">W,L2</tspan></text><text x="122.2" y="113.1" font-size="9.6" fill="#fff"><tspan>RP</tspan><tspan font-size="6" dy="-4.2">+</tspan><tspan font-size="6" dx="-3.4" dy="6.8">W,L2</tspan></text><text x="122.9" y="137.8" font-size="9.6" fill="#fff"><tspan>AP</tspan><tspan font-size="6" dy="-4.2">+</tspan><tspan font-size="6" dx="-3.4" dy="6.8">W,L2</tspan></text><text x="64.7" y="169.3" font-size="9.6" fill="#fff"><tspan>AP</tspan><tspan font-size="6" dy="-4.2">+</tspan><tspan font-size="6" dx="-3.4" dy="6.8">W,L1</tspan></text><line x1="129.2" y1="138.6" x2="120.4" y2="146.7" stroke="#f0141e" stroke-width="1.6"/><polygon points="117.1,149.8 118.9,144.4 122.6,148.4" fill="#f0141e"/><line x1="72.8" y1="159.4" x2="80.2" y2="148.8" stroke="#fff" stroke-width="1.6"/><polygon points="82.8,145.1 82.1,150.7 77.7,147.7" fill="#fff"/><text x="63" y="189" font-size="10" fill="#fff">×2</text><text x="117.9" y="172.8" font-size="10.2" fill="#fff">5 T <tspan font-style="italic">σ</tspan><tspan font-size="6.5" dy="-4.6">+</tspan></text><text x="103.3" y="185.9" font-size="10.2" fill="#fff" textLength="41.4" lengthAdjust="spacingAndGlyphs"><tspan font-style="italic">V</tspan><tspan font-size="7" dy="3">E</tspan><tspan dy="-3"> = +3 V</tspan></text><text x="271.9" y="136" font-size="9.6" fill="#fff"><tspan>AP</tspan><tspan font-size="6" dy="-4.2">+</tspan><tspan font-size="6" dx="-3.4" dy="6.8">W,L2</tspan></text><line x1="273.9" y1="128.6" x2="265.5" y2="120.5" stroke="#f0141e" stroke-width="1.6"/><polygon points="262.2,117.4 267.7,118.9 263.9,122.8" fill="#f0141e"/><line x1="272.5" y1="137.1" x2="263.4" y2="145.3" stroke="#f0141e" stroke-width="1.6"/><polygon points="260.1,148.3 262,142.9 265.6,147" fill="#f0141e"/><text x="225.3" y="188.6" font-size="10" fill="#fff">×2</text><text x="279.6" y="173.2" font-size="10.2" fill="#fff">5 T <tspan font-style="italic">σ</tspan><tspan font-size="6.5" dy="-4.6">−</tspan></text><text x="265.3" y="186.3" font-size="10.2" fill="#fff" textLength="41.6" lengthAdjust="spacingAndGlyphs"><tspan font-style="italic">V</tspan><tspan font-size="7" dy="3">E</tspan><tspan dy="-3"> = +3 V</tspan></text><g clip-path="url(#cc)"><g filter="url(#cmrdbu)"><rect x="363.4" y="63.4" width="120.2" height="133.3" fill="#676767"/><rect x="360" y="60" width="290" height="140" fill="#000" filter="url(#nz)"/><path d="M395.2 63 L395 80 L394.8 96" fill="none" stroke="url(#o27)" stroke-width="11" filter="url(#g1)"/><path d="M392.8 76 L392.8 86 L392.9 94" fill="none" stroke="url(#o28)" stroke-width="5" filter="url(#g1)"/><ellipse cx="392.9" cy="92.3" rx="3.4" ry="3.6" fill="#000" fill-opacity="0.95" filter="url(#g08)"/><ellipse cx="386.8" cy="92.2" rx="2.6" ry="3.4" fill="#fff" fill-opacity="0.92" filter="url(#g08)"/><ellipse cx="386.1" cy="81.5" rx="1.4" ry="1.8" fill="#fff" fill-opacity="0.36" filter="url(#g08)"/><ellipse cx="408" cy="92.3" rx="2.8" ry="2.6" fill="#fff" fill-opacity="0.56" filter="url(#g1)"/><ellipse cx="405" cy="72" rx="2" ry="3" fill="#fff" fill-opacity="0.26" filter="url(#g1)"/><path d="M401 63 L401 150" fill="none" stroke="#fff" stroke-opacity="0.14" stroke-width="5" filter="url(#g15)"/><ellipse cx="388.3" cy="100" rx="2" ry="3.6" fill="#000" fill-opacity="0.85" filter="url(#g08)"/><path d="M389.5 100 L390 108 L390.5 116" fill="none" stroke="url(#o29)" stroke-width="3" filter="url(#g1)"/><path d="M395 98 L395 123" fill="none" stroke="#000" stroke-opacity="0.21" stroke-width="10" filter="url(#g15)"/><path d="M388.5 116 L388.5 150" fill="none" stroke="url(#o30)" stroke-width="1.6" filter="url(#g05)"/><ellipse cx="425.5" cy="100" rx="4.6" ry="3.6" fill="#000" fill-opacity="0.51" filter="url(#g15)"/><path d="M432.5 107.5 L437.5 113 L442 118" fill="none" stroke="#000" stroke-opacity="0.65" stroke-width="5" filter="url(#g1)"/><ellipse cx="440.4" cy="91" rx="2" ry="2" fill="#fff" fill-opacity="0.29" filter="url(#g1)"/><path d="M443.8 96.5 L445 103 L446.2 110 L448.3 116 L449.8 120 L451.6 123 L454.4 126 L457.4 128.6" fill="none" stroke="url(#o31)" stroke-width="7.8" filter="url(#g08)"/><ellipse cx="446" cy="126.6" rx="5" ry="3.2" fill="#000" fill-opacity="0.95" filter="url(#g08)"/><path d="M421 123 L420.2 137 L419.4 150 L418.5 170 L418 197" fill="none" stroke="url(#o32)" stroke-width="6" filter="url(#g15)"/><path d="M410 123 L410 150" fill="none" stroke="#fff" stroke-opacity="0.11" stroke-width="5" filter="url(#g15)"/><path d="M437.5 126 L439 140 L440.6 152 L441 165 L441 197" fill="none" stroke="url(#o33)" stroke-width="6" filter="url(#g15)"/><path d="M391 123 L392 150 L392 197" fill="none" stroke="url(#o34)" stroke-width="6" filter="url(#g15)"/><path d="M432 123 L432 150" fill="none" stroke="#fff" stroke-opacity="0.13" stroke-width="5" filter="url(#g15)"/><path d="M407 96 L406 150" fill="none" stroke="#fff" stroke-opacity="0.11" stroke-width="4" filter="url(#g15)"/></g></g><g clip-path="url(#cd)"><g filter="url(#cmrdbu)"><rect x="524.5" y="63.4" width="120" height="133.3" fill="#676767"/><rect x="360" y="60" width="290" height="140" fill="#000" filter="url(#nz)"/><path d="M557.6 63 L557.4 80 L557 96" fill="none" stroke="url(#o35)" stroke-width="12" filter="url(#g1)"/><path d="M555.5 74 L555.2 86 L555 94" fill="none" stroke="url(#o36)" stroke-width="5" filter="url(#g1)"/><ellipse cx="555.2" cy="91.8" rx="3.4" ry="3.8" fill="#000" fill-opacity="0.95" filter="url(#g08)"/><ellipse cx="549.6" cy="92.4" rx="2.3" ry="3.6" fill="#fff" fill-opacity="0.92" transform="rotate(-20 549.6 92.4)" filter="url(#g08)"/><ellipse cx="548.3" cy="82.2" rx="1.4" ry="1.8" fill="#fff" fill-opacity="0.33" filter="url(#g08)"/><ellipse cx="569.4" cy="92" rx="2.8" ry="2.6" fill="#fff" fill-opacity="0.6" filter="url(#g1)"/><path d="M564 63 L564 123" fill="none" stroke="#fff" stroke-opacity="0.09" stroke-width="4" filter="url(#g15)"/><ellipse cx="550.3" cy="99.8" rx="2.2" ry="3.4" fill="#000" fill-opacity="0.88" filter="url(#g08)"/><path d="M551.5 100 L551.5 110 L551 123" fill="none" stroke="url(#o37)" stroke-width="3" filter="url(#g1)"/><path d="M557 98 L557 123" fill="none" stroke="#000" stroke-opacity="0.19" stroke-width="8" filter="url(#g15)"/><path d="M550.4 114 L550.4 150" fill="none" stroke="url(#o38)" stroke-width="1.6" filter="url(#g05)"/><path d="M589 112 L589 124" fill="none" stroke="#000" stroke-opacity="0.51" stroke-width="4" filter="url(#g1)"/><ellipse cx="584" cy="99" rx="3.4" ry="3.4" fill="#000" fill-opacity="0.38" filter="url(#g15)"/><path d="M582 97 L582.5 110 L584 122" fill="none" stroke="#000" stroke-opacity="0.23" stroke-width="9" filter="url(#g2)"/><path d="M596.5 96.5 L595.6 102 L594 108 L592.6 114 L591.6 120" fill="none" stroke="url(#o39)" stroke-width="8.6" filter="url(#g08)"/><ellipse cx="591.5" cy="120.2" rx="3.2" ry="2.8" fill="#000" fill-opacity="0.93" filter="url(#g08)"/><ellipse cx="598" cy="99" rx="3.5" ry="3" fill="#000" fill-opacity="0.98" filter="url(#g08)"/><path d="M604 96.5 L606 100.5 L608.2 104.5 L610.4 108.5 L612.8 112.5 L615 115.5" fill="none" stroke="url(#o40)" stroke-width="6.4" filter="url(#g08)"/><ellipse cx="602.8" cy="93.5" rx="1.8" ry="1.8" fill="#fff" fill-opacity="0.36" filter="url(#g08)"/><ellipse cx="592.8" cy="127.4" rx="3.6" ry="3.8" fill="#fff" fill-opacity="1" filter="url(#g08)"/><path d="M593 128 L594.5 132 L596 136" fill="none" stroke="url(#o41)" stroke-width="3" filter="url(#g08)"/><path d="M584 124 L584 140 L584.5 155 L587 168 L590 178 L592 197" fill="none" stroke="url(#o42)" stroke-width="10" filter="url(#g2)"/><ellipse cx="551.5" cy="126" rx="2.4" ry="3" fill="#000" fill-opacity="0.56" filter="url(#g1)"/><path d="M596.5 84 L597 90 L597.5 96" fill="none" stroke="url(#o43)" stroke-width="6" filter="url(#g15)"/><path d="M553.5 123 L553.5 150 L553.5 178 L553.5 197" fill="none" stroke="url(#o44)" stroke-width="5" filter="url(#g15)"/><path d="M587.5 150.5 L589.8 157 L592.2 163 L594.8 168.5 L597.4 173 L599.6 177" fill="none" stroke="url(#o45)" stroke-width="4.4" filter="url(#g08)"/><path d="M603 125 L604 150" fill="none" stroke="#fff" stroke-opacity="0.09" stroke-width="5" filter="url(#g15)"/></g></g><line x1="369.4" y1="78.5" x2="450.6" y2="78.5" stroke="#333" stroke-width="1.35" stroke-dasharray="6.3 6.3" stroke-dashoffset="0.2"/><line x1="369.4" y1="87.5" x2="450.6" y2="87.5" stroke="#333" stroke-width="1.35" stroke-dasharray="6.3 6.3" stroke-dashoffset="0.2"/><line x1="369.4" y1="105.5" x2="450.6" y2="105.5" stroke="#333" stroke-width="1.35" stroke-dasharray="6.3 6.3" stroke-dashoffset="0.2"/><line x1="369.4" y1="114.5" x2="450.6" y2="114.5" stroke="#333" stroke-width="1.35" stroke-dasharray="6.3 6.3" stroke-dashoffset="0.2"/><line x1="369.4" y1="132.5" x2="450.6" y2="132.5" stroke="#333" stroke-width="1.35" stroke-dasharray="6.3 6.3" stroke-dashoffset="0.2"/><line x1="369.4" y1="141.5" x2="450.6" y2="141.5" stroke="#333" stroke-width="1.35" stroke-dasharray="6.3 6.3" stroke-dashoffset="0.2"/><line x1="369.4" y1="96.5" x2="477.6" y2="96.5" stroke="#333" stroke-width="1.2"/><line x1="369.4" y1="123.5" x2="477.6" y2="123.5" stroke="#333" stroke-width="1.2"/><line x1="369.4" y1="150.5" x2="477.6" y2="150.5" stroke="#333" stroke-width="1.2"/><line x1="369.4" y1="177.5" x2="477.6" y2="177.5" stroke="#333" stroke-width="1.2"/><text x="472.9" y="82.7" font-size="10.4" text-anchor="end" fill="#222">1/3</text><text x="472.9" y="91.7" font-size="10.4" text-anchor="end" fill="#222">2/3</text><text x="472.9" y="109.7" font-size="10.4" text-anchor="end" fill="#222">4/3</text><text x="472.9" y="118.7" font-size="10.4" text-anchor="end" fill="#222">5/3</text><text x="472.9" y="136.7" font-size="10.4" text-anchor="end" fill="#222">7/3</text><text x="472.9" y="145.7" font-size="10.4" text-anchor="end" fill="#222">8/3</text><line x1="369.4" y1="83" x2="477.6" y2="83" stroke="#2a2a2a" stroke-width="1.8" stroke-dasharray="1.7 1.4"/><line x1="369.4" y1="110" x2="477.6" y2="110" stroke="#2a2a2a" stroke-width="1.8" stroke-dasharray="1.7 1.4"/><rect x="369.4" y="69.4" width="108.2" height="121.3" fill="none" stroke="#666" stroke-width="0.7"/><line x1="367.2" y1="69.5" x2="369.4" y2="69.5" stroke="#666" stroke-width="0.6"/><text x="362.2" y="72.7" font-size="9" text-anchor="end">0</text><line x1="367.2" y1="83" x2="369.4" y2="83" stroke="#666" stroke-width="0.6"/><text x="362.2" y="86.2" font-size="9" text-anchor="end">1/2</text><line x1="367.2" y1="96.5" x2="369.4" y2="96.5" stroke="#666" stroke-width="0.6"/><text x="362.2" y="99.7" font-size="9" text-anchor="end">1</text><line x1="367.2" y1="110" x2="369.4" y2="110" stroke="#666" stroke-width="0.6"/><text x="362.2" y="113.2" font-size="9" text-anchor="end">3/2</text><line x1="367.2" y1="123.5" x2="369.4" y2="123.5" stroke="#666" stroke-width="0.6"/><text x="362.2" y="126.7" font-size="9" text-anchor="end">2</text><line x1="367.2" y1="150.5" x2="369.4" y2="150.5" stroke="#666" stroke-width="0.6"/><text x="362.2" y="153.7" font-size="9" text-anchor="end">3</text><line x1="367.2" y1="177.5" x2="369.4" y2="177.5" stroke="#666" stroke-width="0.6"/><text x="362.2" y="180.7" font-size="9" text-anchor="end">4</text><line x1="367.2" y1="78.5" x2="369.4" y2="78.5" stroke="#666" stroke-width="0.6"/><line x1="367.2" y1="87.5" x2="369.4" y2="87.5" stroke="#666" stroke-width="0.6"/><line x1="367.2" y1="105.5" x2="369.4" y2="105.5" stroke="#666" stroke-width="0.6"/><line x1="367.2" y1="114.5" x2="369.4" y2="114.5" stroke="#666" stroke-width="0.6"/><line x1="367.2" y1="132.5" x2="369.4" y2="132.5" stroke="#666" stroke-width="0.6"/><line x1="367.2" y1="141.5" x2="369.4" y2="141.5" stroke="#666" stroke-width="0.6"/><line x1="382.4" y1="190.7" x2="382.4" y2="192.9" stroke="#666" stroke-width="0.6"/><text x="382.4" y="206.6" font-size="8.6" text-anchor="middle">1.60</text><line x1="414" y1="190.7" x2="414" y2="192.9" stroke="#666" stroke-width="0.6"/><text x="414" y="206.6" font-size="8.6" text-anchor="middle">1.65</text><line x1="445.6" y1="190.7" x2="445.6" y2="192.9" stroke="#666" stroke-width="0.6"/><text x="445.6" y="206.6" font-size="8.6" text-anchor="middle">1.70</text><line x1="477.2" y1="190.7" x2="477.2" y2="192.9" stroke="#666" stroke-width="0.6"/><text x="477.2" y="206.6" font-size="8.6" text-anchor="middle">1.75</text><text x="423.5" y="222.7" font-size="10.6" text-anchor="middle">Energy (eV)</text><line x1="530.5" y1="78.5" x2="611.7" y2="78.5" stroke="#333" stroke-width="1.35" stroke-dasharray="6.3 6.3" stroke-dashoffset="0.2"/><line x1="530.5" y1="87.5" x2="611.7" y2="87.5" stroke="#333" stroke-width="1.35" stroke-dasharray="6.3 6.3" stroke-dashoffset="0.2"/><line x1="530.5" y1="105.5" x2="611.7" y2="105.5" stroke="#333" stroke-width="1.35" stroke-dasharray="6.3 6.3" stroke-dashoffset="0.2"/><line x1="530.5" y1="114.5" x2="611.7" y2="114.5" stroke="#333" stroke-width="1.35" stroke-dasharray="6.3 6.3" stroke-dashoffset="0.2"/><line x1="530.5" y1="132.5" x2="611.7" y2="132.5" stroke="#333" stroke-width="1.35" stroke-dasharray="6.3 6.3" stroke-dashoffset="0.2"/><line x1="530.5" y1="141.5" x2="611.7" y2="141.5" stroke="#333" stroke-width="1.35" stroke-dasharray="6.3 6.3" stroke-dashoffset="0.2"/><line x1="530.5" y1="96.5" x2="638.5" y2="96.5" stroke="#333" stroke-width="1.2"/><line x1="530.5" y1="123.5" x2="638.5" y2="123.5" stroke="#333" stroke-width="1.2"/><line x1="530.5" y1="150.5" x2="638.5" y2="150.5" stroke="#333" stroke-width="1.2"/><line x1="530.5" y1="177.5" x2="638.5" y2="177.5" stroke="#333" stroke-width="1.2"/><text x="634" y="82.7" font-size="10.4" text-anchor="end" fill="#222">1/3</text><text x="634" y="91.7" font-size="10.4" text-anchor="end" fill="#222">2/3</text><text x="634" y="109.7" font-size="10.4" text-anchor="end" fill="#222">4/3</text><text x="634" y="118.7" font-size="10.4" text-anchor="end" fill="#222">5/3</text><text x="634" y="136.7" font-size="10.4" text-anchor="end" fill="#222">7/3</text><text x="634" y="145.7" font-size="10.4" text-anchor="end" fill="#222">8/3</text><line x1="530.5" y1="83" x2="638.5" y2="83" stroke="#2a2a2a" stroke-width="1.8" stroke-dasharray="1.7 1.4"/><line x1="530.5" y1="110" x2="638.5" y2="110" stroke="#2a2a2a" stroke-width="1.8" stroke-dasharray="1.7 1.4"/><rect x="530.5" y="69.4" width="108" height="121.3" fill="none" stroke="#666" stroke-width="0.7"/><line x1="528.3" y1="69.5" x2="530.5" y2="69.5" stroke="#666" stroke-width="0.6"/><text x="523.3" y="72.7" font-size="9" text-anchor="end">0</text><line x1="528.3" y1="83" x2="530.5" y2="83" stroke="#666" stroke-width="0.6"/><text x="523.3" y="86.2" font-size="9" text-anchor="end">1/2</text><line x1="528.3" y1="96.5" x2="530.5" y2="96.5" stroke="#666" stroke-width="0.6"/><text x="523.3" y="99.7" font-size="9" text-anchor="end">1</text><line x1="528.3" y1="110" x2="530.5" y2="110" stroke="#666" stroke-width="0.6"/><text x="523.3" y="113.2" font-size="9" text-anchor="end">3/2</text><line x1="528.3" y1="123.5" x2="530.5" y2="123.5" stroke="#666" stroke-width="0.6"/><text x="523.3" y="126.7" font-size="9" text-anchor="end">2</text><line x1="528.3" y1="150.5" x2="530.5" y2="150.5" stroke="#666" stroke-width="0.6"/><text x="523.3" y="153.7" font-size="9" text-anchor="end">3</text><line x1="528.3" y1="177.5" x2="530.5" y2="177.5" stroke="#666" stroke-width="0.6"/><text x="523.3" y="180.7" font-size="9" text-anchor="end">4</text><line x1="528.3" y1="78.5" x2="530.5" y2="78.5" stroke="#666" stroke-width="0.6"/><line x1="528.3" y1="87.5" x2="530.5" y2="87.5" stroke="#666" stroke-width="0.6"/><line x1="528.3" y1="105.5" x2="530.5" y2="105.5" stroke="#666" stroke-width="0.6"/><line x1="528.3" y1="114.5" x2="530.5" y2="114.5" stroke="#666" stroke-width="0.6"/><line x1="528.3" y1="132.5" x2="530.5" y2="132.5" stroke="#666" stroke-width="0.6"/><line x1="528.3" y1="141.5" x2="530.5" y2="141.5" stroke="#666" stroke-width="0.6"/><line x1="543.3" y1="190.7" x2="543.3" y2="192.9" stroke="#666" stroke-width="0.6"/><text x="543.3" y="206.6" font-size="8.6" text-anchor="middle">1.60</text><line x1="574.9" y1="190.7" x2="574.9" y2="192.9" stroke="#666" stroke-width="0.6"/><text x="574.9" y="206.6" font-size="8.6" text-anchor="middle">1.65</text><line x1="606.5" y1="190.7" x2="606.5" y2="192.9" stroke="#666" stroke-width="0.6"/><text x="606.5" y="206.6" font-size="8.6" text-anchor="middle">1.70</text><line x1="638.1" y1="190.7" x2="638.1" y2="192.9" stroke="#666" stroke-width="0.6"/><text x="638.1" y="206.6" font-size="8.6" text-anchor="middle">1.75</text><text x="584.5" y="222.7" font-size="10.6" text-anchor="middle">Energy (eV)</text><text transform="translate(337.6 135.2) rotate(-90)" font-size="10.2"><tspan font-weight="bold" font-style="italic">ν</tspan><tspan font-size="7.2" dy="2.4" fill="#777">h</tspan></text><g clip-path="url(#ce)"><g filter="url(#cmpar)"><rect x="36.7" y="280.9" width="119.8" height="133.4" fill="#242424"/><path d="M44 281 L44 414" fill="none" stroke="#fff" stroke-opacity="0.1" stroke-width="6" filter="url(#g15)"/><path d="M53.9 281 L54 320 L54.6 350 L56 380 L57.4 414" fill="none" stroke="#fff" stroke-opacity="0.4" stroke-width="11" filter="url(#g15)"/><path d="M53.9 281 L54 320 L54.6 350 L56 380 L57.4 414" fill="none" stroke="#fff" stroke-opacity="1" stroke-width="7" filter="url(#g05)"/><path d="M73.5 281 L73.5 414" fill="none" stroke="#fff" stroke-opacity="0.18" stroke-width="6" filter="url(#g15)"/><path d="M80.5 281 L80.5 414" fill="none" stroke="#fff" stroke-opacity="0.2" stroke-width="6" filter="url(#g15)"/><path d="M87 281 L87 414" fill="none" stroke="#fff" stroke-opacity="0.16" stroke-width="6" filter="url(#g15)"/><path d="M96 281 L95.6 340 L96.2 414" fill="none" stroke="url(#o46)" stroke-width="10" filter="url(#g15)"/><path d="M98 340 L98.6 370 L99 414" fill="none" stroke="url(#o47)" stroke-width="4.5" filter="url(#g15)"/><path d="M108.5 281 L108.5 414" fill="none" stroke="#fff" stroke-opacity="0.14" stroke-width="6" filter="url(#g15)"/><path d="M118 281 L118 414" fill="none" stroke="#fff" stroke-opacity="0.14" stroke-width="6" filter="url(#g15)"/><path d="M128 281 L128 414" fill="none" stroke="#fff" stroke-opacity="0.08" stroke-width="5" filter="url(#g15)"/><path d="M137 281 L137 414" fill="none" stroke="#000" stroke-opacity="0.2" stroke-width="6" filter="url(#g15)"/><path d="M64.4 281 L64.6 350 L65.4 414" fill="none" stroke="#000" stroke-opacity="0.85" stroke-width="8.6" filter="url(#g1)"/></g></g><g clip-path="url(#cf)"><g filter="url(#cmpar)"><rect x="203" y="280.9" width="119.5" height="133.3" fill="#242424"/><path d="M221.1 281 L220 330 L220.8 370 L222.4 414" fill="none" stroke="#fff" stroke-opacity="0.4" stroke-width="11" filter="url(#g15)"/><path d="M221.1 281 L220 330 L220.8 370 L222.4 414" fill="none" stroke="#fff" stroke-opacity="1" stroke-width="7.2" filter="url(#g05)"/><path d="M238.5 281 L238.5 414" fill="none" stroke="#fff" stroke-opacity="0.2" stroke-width="6" filter="url(#g15)"/><path d="M246 281 L246 414" fill="none" stroke="#fff" stroke-opacity="0.3" stroke-width="7" filter="url(#g15)"/><path d="M253 281 L253 414" fill="none" stroke="#fff" stroke-opacity="0.2" stroke-width="5" filter="url(#g15)"/><path d="M262.5 281 L261.5 340 L261 414" fill="none" stroke="url(#o48)" stroke-width="11" filter="url(#g15)"/><path d="M264.8 281 L264.6 300 L264.2 320 L263.8 340" fill="none" stroke="url(#o49)" stroke-width="4.5" filter="url(#g15)"/><path d="M277 281 L277 414" fill="none" stroke="#fff" stroke-opacity="0.16" stroke-width="9" filter="url(#g15)"/><path d="M291 281 L291 414" fill="none" stroke="#000" stroke-opacity="0.3" stroke-width="7" filter="url(#g15)"/><path d="M300 281 L300 414" fill="none" stroke="#fff" stroke-opacity="0.08" stroke-width="5" filter="url(#g15)"/><path d="M230.6 281 L230.4 350 L230.8 414" fill="none" stroke="#000" stroke-opacity="0.85" stroke-width="7.6" filter="url(#g1)"/></g></g><rect x="42.7" y="286.9" width="107.8" height="121.4" fill="none" stroke="#3a3a6a" stroke-width="0.5"/><line x1="40.5" y1="286.9" x2="42.7" y2="286.9" stroke="#666" stroke-width="0.6"/><text x="35.5" y="290.1" font-size="9" text-anchor="end">5.0</text><line x1="40.5" y1="317.2" x2="42.7" y2="317.2" stroke="#666" stroke-width="0.6"/><text x="35.5" y="320.4" font-size="9" text-anchor="end">2.5</text><line x1="40.5" y1="347.6" x2="42.7" y2="347.6" stroke="#666" stroke-width="0.6"/><text x="35.5" y="350.8" font-size="9" text-anchor="end">0</text><line x1="40.5" y1="377.9" x2="42.7" y2="377.9" stroke="#666" stroke-width="0.6"/><text x="35.5" y="381.1" font-size="9" text-anchor="end">−2.5</text><line x1="40.5" y1="408.3" x2="42.7" y2="408.3" stroke="#666" stroke-width="0.6"/><text x="35.5" y="411.5" font-size="9" text-anchor="end">−5.0</text><text transform="translate(9.5 347.6) rotate(-90)" font-size="10.4" text-anchor="middle"><tspan font-style="italic">B</tspan> field (T)</text><line x1="42.9" y1="408.3" x2="42.9" y2="410.5" stroke="#666" stroke-width="0.6"/><text x="42.9" y="423.4" font-size="8.6" text-anchor="middle">1.60</text><line x1="78.6" y1="408.3" x2="78.6" y2="410.5" stroke="#666" stroke-width="0.6"/><text x="78.6" y="423.4" font-size="8.6" text-anchor="middle">1.65</text><line x1="114.3" y1="408.3" x2="114.3" y2="410.5" stroke="#666" stroke-width="0.6"/><text x="114.3" y="423.4" font-size="8.6" text-anchor="middle">1.70</text><line x1="150" y1="408.3" x2="150" y2="410.5" stroke="#666" stroke-width="0.6"/><text x="150" y="423.4" font-size="8.6" text-anchor="middle">1.75</text><text x="96.6" y="441" font-size="10.6" text-anchor="middle">Energy (eV)</text><rect x="209" y="286.9" width="107.5" height="121.3" fill="none" stroke="#3a3a6a" stroke-width="0.5"/><line x1="206.8" y1="286.9" x2="209" y2="286.9" stroke="#666" stroke-width="0.6"/><text x="201.8" y="290.1" font-size="9" text-anchor="end">5.0</text><line x1="206.8" y1="317.2" x2="209" y2="317.2" stroke="#666" stroke-width="0.6"/><text x="201.8" y="320.4" font-size="9" text-anchor="end">2.5</text><line x1="206.8" y1="347.5" x2="209" y2="347.5" stroke="#666" stroke-width="0.6"/><text x="201.8" y="350.7" font-size="9" text-anchor="end">0</text><line x1="206.8" y1="377.9" x2="209" y2="377.9" stroke="#666" stroke-width="0.6"/><text x="201.8" y="381.1" font-size="9" text-anchor="end">−2.5</text><line x1="206.8" y1="408.2" x2="209" y2="408.2" stroke="#666" stroke-width="0.6"/><text x="201.8" y="411.4" font-size="9" text-anchor="end">−5.0</text><line x1="209.2" y1="408.2" x2="209.2" y2="410.4" stroke="#666" stroke-width="0.6"/><text x="209.2" y="423.4" font-size="8.6" text-anchor="middle">1.60</text><line x1="244.9" y1="408.2" x2="244.9" y2="410.4" stroke="#666" stroke-width="0.6"/><text x="244.9" y="423.4" font-size="8.6" text-anchor="middle">1.65</text><line x1="280.6" y1="408.2" x2="280.6" y2="410.4" stroke="#666" stroke-width="0.6"/><text x="280.6" y="423.4" font-size="8.6" text-anchor="middle">1.70</text><line x1="316.3" y1="408.2" x2="316.3" y2="410.4" stroke="#666" stroke-width="0.6"/><text x="316.3" y="423.4" font-size="8.6" text-anchor="middle">1.75</text><text x="262.8" y="441" font-size="10.6" text-anchor="middle">Energy (eV)</text><circle cx="101.2" cy="408.3" r="2.45" fill="#ff0a0a"/><circle cx="101.4" cy="402.2" r="2.45" fill="#ff0a0a"/><circle cx="101.7" cy="396.2" r="2.45" fill="#ff0a0a"/><circle cx="102.1" cy="390.1" r="2.45" fill="#ff0a0a"/><circle cx="102.3" cy="384" r="2.45" fill="#ff0a0a"/><circle cx="102.6" cy="377.9" r="2.45" fill="#ff0a0a"/><circle cx="103" cy="371.9" r="2.45" fill="#ff0a0a"/><circle cx="103.5" cy="365.8" r="2.45" fill="#ff0a0a"/><circle cx="103.9" cy="359.7" r="2.45" fill="#ff0a0a"/><circle cx="104.4" cy="353.7" r="2.45" fill="#ff0a0a"/><circle cx="104.6" cy="347.6" r="2.45" fill="#ff0a0a"/><circle cx="105" cy="341.5" r="2.45" fill="#ff0a0a"/><circle cx="105.5" cy="335.5" r="2.45" fill="#ff0a0a"/><circle cx="106.2" cy="329.4" r="2.45" fill="#ff0a0a"/><circle cx="106.8" cy="323.3" r="2.45" fill="#ff0a0a"/><circle cx="266.5" cy="286.9" r="2.45" fill="#ff0a0a"/><circle cx="266.8" cy="293" r="2.45" fill="#ff0a0a"/><circle cx="267.3" cy="299" r="2.45" fill="#ff0a0a"/><circle cx="267.5" cy="305.1" r="2.45" fill="#ff0a0a"/><circle cx="267.9" cy="311.2" r="2.45" fill="#ff0a0a"/><circle cx="268.4" cy="317.2" r="2.45" fill="#ff0a0a"/><circle cx="268.8" cy="323.3" r="2.45" fill="#ff0a0a"/><circle cx="269.3" cy="329.4" r="2.45" fill="#ff0a0a"/><circle cx="269.9" cy="335.5" r="2.45" fill="#ff0a0a"/><circle cx="270.4" cy="341.5" r="2.45" fill="#ff0a0a"/><circle cx="270.9" cy="347.6" r="2.45" fill="#ff0a0a"/><circle cx="271.5" cy="353.7" r="2.45" fill="#ff0a0a"/><circle cx="272.1" cy="359.7" r="2.45" fill="#ff0a0a"/><circle cx="272.7" cy="365.8" r="2.45" fill="#ff0a0a"/><circle cx="273.4" cy="371.9" r="2.45" fill="#ff0a0a"/><text x="119.3" y="299" font-size="10.6" fill="#fff" textLength="25.2" lengthAdjust="spacingAndGlyphs"><tspan font-style="italic">ν</tspan><tspan font-size="7.2" dy="2.8">h</tspan><tspan dy="-2.8"> = 2</tspan></text><text x="126.2" y="314.8" font-size="10.6" fill="#fff" textLength="17.8" lengthAdjust="spacingAndGlyphs"><tspan font-style="italic">V</tspan><tspan font-size="7.2" dy="2.8">E</tspan><tspan dy="-2.8"> =</tspan></text><text x="125.6" y="327.7" font-size="10.6" fill="#fff" textLength="21" lengthAdjust="spacingAndGlyphs">+3 V</text><text x="287" y="298" font-size="10.6" fill="#fff" textLength="25.9" lengthAdjust="spacingAndGlyphs"><tspan font-style="italic">ν</tspan><tspan font-size="7.2" dy="2.8">h</tspan><tspan dy="-2.8"> = 2</tspan></text><text x="293.6" y="313.4" font-size="10.6" fill="#fff" textLength="17.5" lengthAdjust="spacingAndGlyphs"><tspan font-style="italic">V</tspan><tspan font-size="7.2" dy="2.8">E</tspan><tspan dy="-2.8"> =</tspan></text><text x="293" y="325.8" font-size="10.6" fill="#fff" textLength="20.5" lengthAdjust="spacingAndGlyphs">+3 V</text><text x="135.5" y="389.2" font-size="10.6" fill="#fff"><tspan font-style="italic">σ</tspan><tspan font-size="6.8" dy="-4.6">+</tspan></text><text x="302.8" y="389.2" font-size="10.6" fill="#fff"><tspan font-style="italic">σ</tspan><tspan font-size="6.8" dy="-4.6">−</tspan></text><text x="72.7" y="361.8" font-size="9.6" fill="#fff"><tspan>AP</tspan><tspan font-size="6" dy="-4.2">+</tspan><tspan font-size="6" dx="-3.4" dy="6.8">W,L2</tspan></text><text x="276" y="347.2" font-size="9.6" fill="#fff"><tspan>AP</tspan><tspan font-size="6" dy="-4.2">+</tspan><tspan font-size="6" dx="-3.4" dy="6.8">W,L2</tspan></text><rect x="389" y="287.2" width="273.6" height="121.2" fill="none" stroke="#8c8c8c" stroke-width="0.8"/><line x1="386.2" y1="304.5" x2="389" y2="304.5" stroke="#777" stroke-width="0.7"/><text x="380.8" y="307.6" font-size="8.8" text-anchor="end">5</text><line x1="386.2" y1="347.8" x2="389" y2="347.8" stroke="#777" stroke-width="0.7"/><text x="380.8" y="350.9" font-size="8.8" text-anchor="end">0</text><line x1="386.2" y1="391.1" x2="389" y2="391.1" stroke="#777" stroke-width="0.7"/><text x="380.8" y="394.2" font-size="8.8" text-anchor="end">−5</text><line x1="389" y1="408.4" x2="389" y2="411" stroke="#777" stroke-width="0.7"/><text x="389" y="423.4" font-size="8.8" text-anchor="middle">−3</text><line x1="434.6" y1="408.4" x2="434.6" y2="411" stroke="#777" stroke-width="0.7"/><text x="434.6" y="423.4" font-size="8.8" text-anchor="middle">−2</text><line x1="480.2" y1="408.4" x2="480.2" y2="411" stroke="#777" stroke-width="0.7"/><text x="480.2" y="423.4" font-size="8.8" text-anchor="middle">−1</text><line x1="525.8" y1="408.4" x2="525.8" y2="411" stroke="#777" stroke-width="0.7"/><text x="525.8" y="423.4" font-size="8.8" text-anchor="middle">0</text><line x1="571.4" y1="408.4" x2="571.4" y2="411" stroke="#777" stroke-width="0.7"/><text x="571.4" y="423.4" font-size="8.8" text-anchor="middle">1</text><line x1="617" y1="408.4" x2="617" y2="411" stroke="#777" stroke-width="0.7"/><text x="617" y="423.4" font-size="8.8" text-anchor="middle">2</text><line x1="662.6" y1="408.4" x2="662.6" y2="411" stroke="#777" stroke-width="0.7"/><text x="662.6" y="423.4" font-size="8.8" text-anchor="middle">3</text><text x="525.8" y="440.1" font-size="10.4" text-anchor="middle"><tspan font-style="italic">B</tspan> field (T)</text><text transform="translate(362.4 347.8) rotate(-90)" font-size="10.1" text-anchor="middle">Δ<tspan font-style="italic">E</tspan> (meV)</text><g clip-path="url(#cg)"><line x1="384.4" y1="343" x2="667.2" y2="352" stroke="#111" stroke-width="2.2"/><circle cx="389" cy="343.1" r="1.85" fill="#111"/><path d="M387.7 341.5h2.6M387.7 344.7h2.6M389 341.5V344.7" stroke="#111" stroke-width="0.6" fill="none"/><circle cx="400.4" cy="343.5" r="1.85" fill="#111"/><path d="M399.1 341.9h2.6M399.1 345.1h2.6M400.4 341.9V345.1" stroke="#111" stroke-width="0.6" fill="none"/><circle cx="411.8" cy="343.9" r="1.85" fill="#111"/><path d="M410.5 342.3h2.6M410.5 345.5h2.6M411.8 342.3V345.5" stroke="#111" stroke-width="0.6" fill="none"/><circle cx="423.2" cy="344.2" r="1.85" fill="#111"/><path d="M421.9 342.6h2.6M421.9 345.8h2.6M423.2 342.6V345.8" stroke="#111" stroke-width="0.6" fill="none"/><circle cx="434.6" cy="344.6" r="1.85" fill="#111"/><path d="M433.3 343h2.6M433.3 346.2h2.6M434.6 343V346.2" stroke="#111" stroke-width="0.6" fill="none"/><circle cx="446" cy="345" r="1.85" fill="#111"/><path d="M444.7 343.4h2.6M444.7 346.6h2.6M446 343.4V346.6" stroke="#111" stroke-width="0.6" fill="none"/><circle cx="457.4" cy="345.3" r="1.85" fill="#111"/><path d="M456.1 343.7h2.6M456.1 346.9h2.6M457.4 343.7V346.9" stroke="#111" stroke-width="0.6" fill="none"/><circle cx="468.8" cy="345.7" r="1.85" fill="#111"/><path d="M467.5 344.1h2.6M467.5 347.3h2.6M468.8 344.1V347.3" stroke="#111" stroke-width="0.6" fill="none"/><circle cx="480.2" cy="346" r="1.85" fill="#111"/><path d="M478.9 344.4h2.6M478.9 347.6h2.6M480.2 344.4V347.6" stroke="#111" stroke-width="0.6" fill="none"/><circle cx="491.6" cy="346.4" r="1.85" fill="#111"/><path d="M490.3 344.8h2.6M490.3 348h2.6M491.6 344.8V348" stroke="#111" stroke-width="0.6" fill="none"/><circle cx="503" cy="346.8" r="1.85" fill="#111"/><path d="M501.7 345.2h2.6M501.7 348.4h2.6M503 345.2V348.4" stroke="#111" stroke-width="0.6" fill="none"/><circle cx="514.4" cy="347.1" r="1.85" fill="#111"/><path d="M513.1 345.5h2.6M513.1 348.7h2.6M514.4 345.5V348.7" stroke="#111" stroke-width="0.6" fill="none"/><circle cx="525.8" cy="347.5" r="1.85" fill="#111"/><path d="M524.5 345.9h2.6M524.5 349.1h2.6M525.8 345.9V349.1" stroke="#111" stroke-width="0.6" fill="none"/><circle cx="537.2" cy="347.9" r="1.85" fill="#111"/><path d="M535.9 346.3h2.6M535.9 349.5h2.6M537.2 346.3V349.5" stroke="#111" stroke-width="0.6" fill="none"/><circle cx="548.6" cy="348.2" r="1.85" fill="#111"/><path d="M547.3 346.6h2.6M547.3 349.8h2.6M548.6 346.6V349.8" stroke="#111" stroke-width="0.6" fill="none"/><circle cx="560" cy="348.6" r="1.85" fill="#111"/><path d="M558.7 347h2.6M558.7 350.2h2.6M560 347V350.2" stroke="#111" stroke-width="0.6" fill="none"/><circle cx="571.4" cy="349" r="1.85" fill="#111"/><path d="M570.1 347.4h2.6M570.1 350.6h2.6M571.4 347.4V350.6" stroke="#111" stroke-width="0.6" fill="none"/><circle cx="582.8" cy="349.3" r="1.85" fill="#111"/><path d="M581.5 347.7h2.6M581.5 350.9h2.6M582.8 347.7V350.9" stroke="#111" stroke-width="0.6" fill="none"/><circle cx="594.2" cy="349.7" r="1.85" fill="#111"/><path d="M592.9 348.1h2.6M592.9 351.3h2.6M594.2 348.1V351.3" stroke="#111" stroke-width="0.6" fill="none"/><circle cx="605.6" cy="350" r="1.85" fill="#111"/><path d="M604.3 348.4h2.6M604.3 351.6h2.6M605.6 348.4V351.6" stroke="#111" stroke-width="0.6" fill="none"/><circle cx="617" cy="350.4" r="1.85" fill="#111"/><path d="M615.7 348.8h2.6M615.7 352h2.6M617 348.8V352" stroke="#111" stroke-width="0.6" fill="none"/><circle cx="628.4" cy="350.8" r="1.85" fill="#111"/><path d="M627.1 349.2h2.6M627.1 352.4h2.6M628.4 349.2V352.4" stroke="#111" stroke-width="0.6" fill="none"/><circle cx="639.8" cy="351.1" r="1.85" fill="#111"/><path d="M638.5 349.5h2.6M638.5 352.7h2.6M639.8 349.5V352.7" stroke="#111" stroke-width="0.6" fill="none"/><circle cx="651.2" cy="351.5" r="1.85" fill="#111"/><path d="M649.9 349.9h2.6M649.9 353.1h2.6M651.2 349.9V353.1" stroke="#111" stroke-width="0.6" fill="none"/><circle cx="662.6" cy="351.9" r="1.85" fill="#111"/><path d="M661.3 350.3h2.6M661.3 353.5h2.6M662.6 350.3V353.5" stroke="#111" stroke-width="0.6" fill="none"/><line x1="416.4" y1="412.8" x2="655.8" y2="284.1" stroke="#f01a1a" stroke-width="2.4"/><path d="M431.2 397.2h6M431.2 410.6h6M434.2 397.2V410.6" stroke="#f25050" stroke-width="0.75" fill="none"/><circle cx="434.2" cy="403.9" r="1.9" fill="#f01a1a"/><path d="M454.2 385.3h6M454.2 399.1h6M457.2 385.3V399.1" stroke="#f25050" stroke-width="0.75" fill="none"/><circle cx="457.2" cy="391.9" r="1.9" fill="#f01a1a"/><path d="M477.2 368.2h6M477.2 379.6h6M480.2 368.2V379.6" stroke="#f25050" stroke-width="0.75" fill="none"/><circle cx="480.2" cy="373.9" r="1.9" fill="#f01a1a"/><path d="M500.2 356.5h6M500.2 367h6M503.2 356.5V367" stroke="#f25050" stroke-width="0.75" fill="none"/><circle cx="503.2" cy="362" r="1.9" fill="#f01a1a"/><path d="M523 351.4h6M523 363.8h6M526 351.4V363.8" stroke="#f25050" stroke-width="0.75" fill="none"/><circle cx="526" cy="357.7" r="1.9" fill="#f01a1a"/><path d="M545.9 339.7h6M545.9 350.6h6M548.9 339.7V350.6" stroke="#f25050" stroke-width="0.75" fill="none"/><circle cx="548.9" cy="345.3" r="1.9" fill="#f01a1a"/><path d="M568.2 325.1h6M568.2 336.4h6M571.2 325.1V336.4" stroke="#f25050" stroke-width="0.75" fill="none"/><circle cx="571.2" cy="330.5" r="1.9" fill="#f01a1a"/><path d="M591.1 310.6h6M591.1 321.7h6M594.1 310.6V321.7" stroke="#f25050" stroke-width="0.75" fill="none"/><circle cx="594.1" cy="316.3" r="1.9" fill="#f01a1a"/><path d="M613.8 297.4h6M613.8 308.4h6M616.8 297.4V308.4" stroke="#f25050" stroke-width="0.75" fill="none"/><circle cx="616.8" cy="302.7" r="1.9" fill="#f01a1a"/></g><path d="M413.1 299.1h6.2M413.1 311.3h6.2M416.2 299.1V311.3" stroke="#222" stroke-width="0.75" fill="none"/><circle cx="416.2" cy="305.3" r="1.9" fill="#111"/><path d="M413.1 315.6h6.2M413.1 328.3h6.2M416.2 315.6V328.3" stroke="#f25050" stroke-width="0.75" fill="none"/><circle cx="416.2" cy="322" r="1.9" fill="#f01a1a"/><text x="423.6" y="307.5" font-size="8.72">AP<tspan font-size="5.6" dy="-3.4">+</tspan><tspan font-size="5.6" dx="-3.2" dy="5.6">W,L2</tspan><tspan dy="-2.2">(</tspan><tspan font-style="italic">V</tspan><tspan font-size="5.6" dy="2.2">E</tspan><tspan dy="-2.2"> = 0 V), </tspan><tspan font-style="italic">g</tspan> = −3.27 ± 0.05</text><text x="423.6" y="323.9" font-size="8.72">AP<tspan font-size="5.6" dy="-3.4">+</tspan><tspan font-size="5.6" dx="-3.2" dy="5.6">W,L2</tspan><tspan dy="-2.2">(</tspan><tspan font-style="italic">V</tspan><tspan font-size="5.6" dy="2.2">E</tspan><tspan dy="-2.2"> = +3 V), </tspan><tspan font-style="italic">g</tspan> = 48.90 ± 2.30</text><text x="660.3" y="402.2" font-size="10" text-anchor="end"><tspan font-style="italic">ν</tspan><tspan font-size="7" dy="2.8">h</tspan><tspan dy="-2.8"> = 2</tspan></text><text x="649.4" y="49.7" font-size="11.6" fill="#222"><tspan font-style="italic">ν</tspan><tspan font-size="8.2" dy="3.1" fill="#aaa">Γ</tspan></text><text x="671.2" y="55.0" font-size="11.6" fill="#222"><tspan font-style="italic">ν</tspan><tspan font-size="7.6" dy="3.2" fill="#555">K</tspan></text><text x="650.4" y="61.7" font-size="10.2" text-anchor="middle" fill="#f01ef0">A</text><text x="660.6" y="61.7" font-size="10.2" text-anchor="middle" fill="#9a28c8">B</text><line x1="650.4" y1="74" x2="650.4" y2="90.2" stroke="#f01ef0" stroke-width="1.1" stroke-dasharray="1.6 1.4"/><line x1="672.8" y1="101" x2="672.8" y2="117.8" stroke="#ff1010" stroke-width="1.1" stroke-dasharray="1.6 1.4"/><line x1="660.3" y1="128.6" x2="660.3" y2="146" stroke="#9a28c8" stroke-width="1.1" stroke-dasharray="1.6 1.4"/><line x1="679.7" y1="156.6" x2="679.7" y2="171.4" stroke="#ff1010" stroke-width="1.1" stroke-dasharray="1.6 1.4"/><rect x="645.9" y="63.6" width="19.6" height="10.2" fill="#fff" stroke="#111" stroke-width="1.3"/><line x1="655.6" y1="63.6" x2="655.6" y2="73.8" stroke="#111" stroke-width="1.2"/><rect x="668.8" y="63.6" width="15.4" height="10.2" fill="#fff" stroke="#111" stroke-width="1.3"/><circle cx="650.5" cy="68.7" r="3.1" fill="#fff" stroke="#f01ef0" stroke-width="0.9"/><circle cx="660.4" cy="68.7" r="3.1" fill="#fff" stroke="#9a28c8" stroke-width="0.9"/><circle cx="673" cy="68.7" r="3.1" fill="#fff" stroke="#ff1010" stroke-width="0.9"/><circle cx="679.8" cy="68.7" r="3.1" fill="#fff" stroke="#ff1010" stroke-width="0.9"/><rect x="645.9" y="90.5" width="19.6" height="10.2" fill="#fff" stroke="#111" stroke-width="1.3"/><line x1="655.6" y1="90.5" x2="655.6" y2="100.7" stroke="#111" stroke-width="1.2"/><rect x="668.8" y="90.5" width="15.4" height="10.2" fill="#fff" stroke="#111" stroke-width="1.3"/><circle cx="650.5" cy="95.6" r="3.5" fill="#f01ef0"/><circle cx="660.4" cy="95.6" r="3.1" fill="#fff" stroke="#9a28c8" stroke-width="0.9"/><circle cx="673" cy="95.6" r="3.1" fill="#fff" stroke="#ff1010" stroke-width="0.9"/><circle cx="679.8" cy="95.6" r="3.1" fill="#fff" stroke="#ff1010" stroke-width="0.9"/><rect x="645.9" y="118.1" width="19.6" height="10.2" fill="#fff" stroke="#111" stroke-width="1.3"/><line x1="655.6" y1="118.1" x2="655.6" y2="128.3" stroke="#111" stroke-width="1.2"/><rect x="668.8" y="118.1" width="15.4" height="10.2" fill="#fff" stroke="#111" stroke-width="1.3"/><circle cx="650.5" cy="123.2" r="3.5" fill="#f01ef0"/><circle cx="660.4" cy="123.2" r="3.1" fill="#fff" stroke="#9a28c8" stroke-width="0.9"/><circle cx="673" cy="123.2" r="3.5" fill="#ff1010"/><circle cx="679.8" cy="123.2" r="3.1" fill="#fff" stroke="#ff1010" stroke-width="0.9"/><rect x="645.9" y="146.2" width="19.6" height="10.2" fill="#fff" stroke="#111" stroke-width="1.3"/><line x1="655.6" y1="146.2" x2="655.6" y2="156.4" stroke="#111" stroke-width="1.2"/><rect x="668.8" y="146.2" width="15.4" height="10.2" fill="#fff" stroke="#111" stroke-width="1.3"/><circle cx="650.5" cy="151.3" r="3.5" fill="#f01ef0"/><circle cx="660.4" cy="151.3" r="3.5" fill="#9a28c8"/><circle cx="673" cy="151.3" r="3.5" fill="#ff1010"/><circle cx="679.8" cy="151.3" r="3.1" fill="#fff" stroke="#ff1010" stroke-width="0.9"/><rect x="645.9" y="171.7" width="19.6" height="10.2" fill="#fff" stroke="#111" stroke-width="1.3"/><line x1="655.6" y1="171.7" x2="655.6" y2="181.9" stroke="#111" stroke-width="1.2"/><rect x="668.8" y="171.7" width="15.4" height="10.2" fill="#fff" stroke="#111" stroke-width="1.3"/><circle cx="650.5" cy="176.8" r="3.5" fill="#f01ef0"/><circle cx="660.4" cy="176.8" r="3.5" fill="#9a28c8"/><circle cx="673" cy="176.8" r="3.5" fill="#ff1010"/><circle cx="679.8" cy="176.8" r="3.5" fill="#ff1010"/></svg></body></html>
